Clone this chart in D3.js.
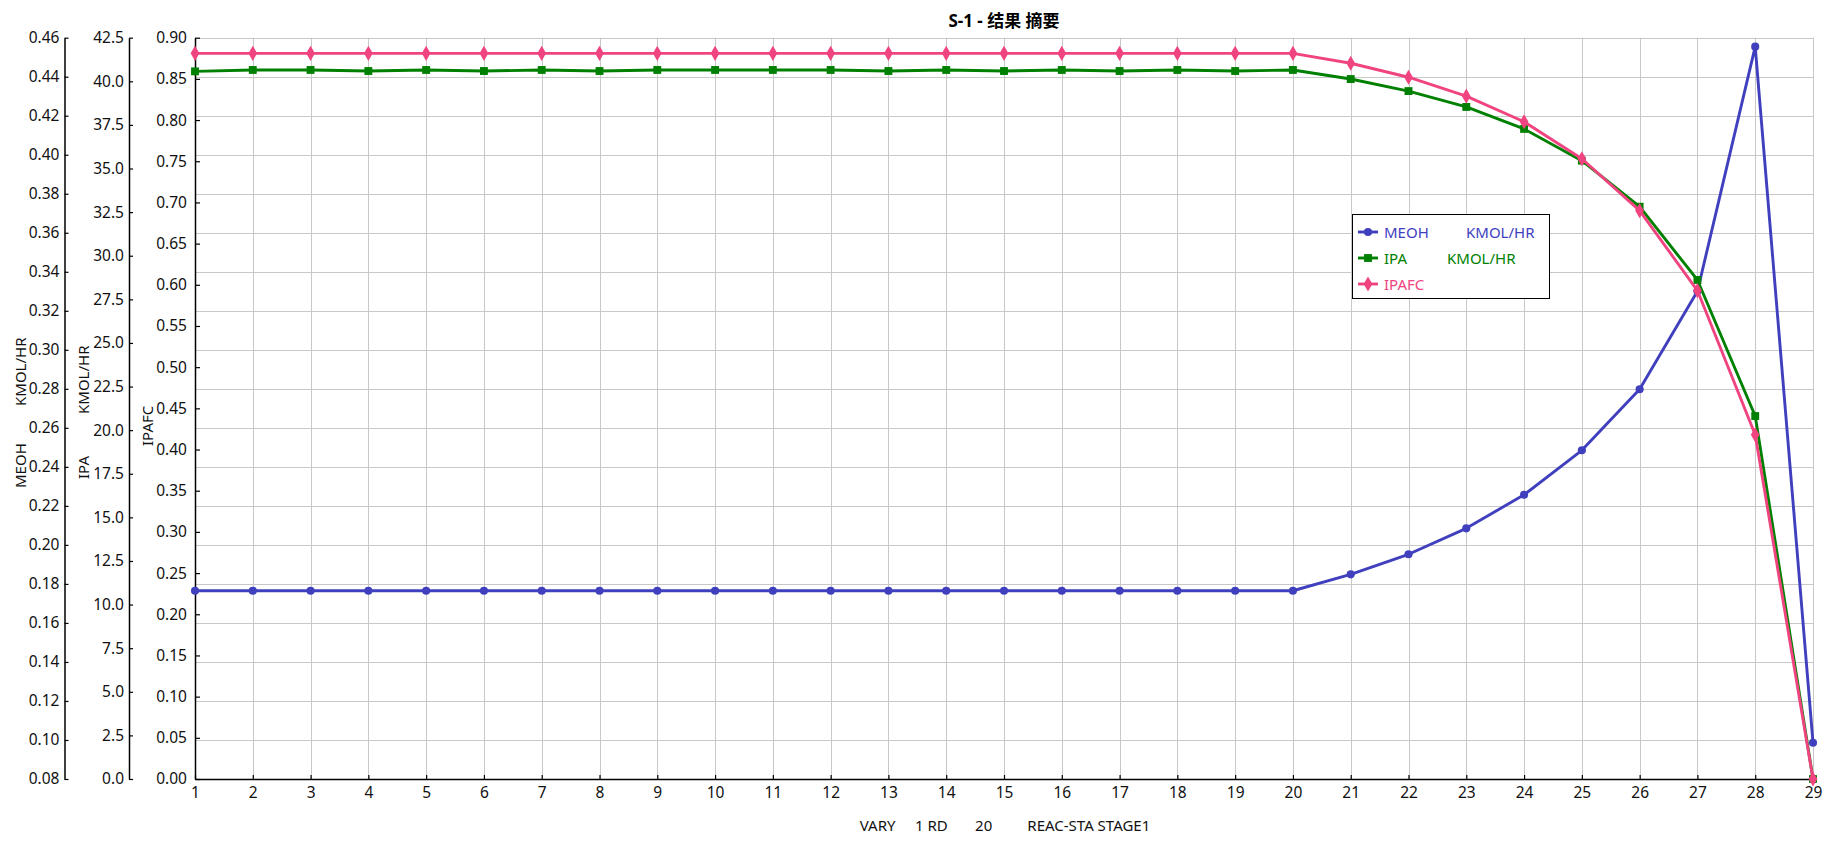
<!DOCTYPE html>
<html>
<head>
<meta charset="utf-8">
<script src="https://cdn.jsdelivr.net/npm/d3@7/dist/d3.min.js"></script>
<style>
  html, body { margin: 0; padding: 0; background: #fff; }
  svg { display: block; }
  text { font-family: "Noto Sans", "Noto Sans CJK SC", sans-serif; }
</style>
</head>
<body>
<svg id="chart" width="1829" height="844"></svg>
<script>
// ---- data ----
const stages = d3.range(1, 30);
const meoh = [0.1765,0.1765,0.1765,0.1765,0.1765,0.1765,0.1765,0.1765,0.1765,0.1765,
              0.1765,0.1765,0.1765,0.1765,0.1765,0.1765,0.1765,0.1765,0.1765,0.1765,
              0.1849,0.1952,0.2085,0.2257,0.2485,0.2798,0.3300,0.4554,0.0986];
const ipa = [40.57,40.65,40.65,40.59,40.65,40.59,40.65,40.59,40.65,40.65,
             40.65,40.65,40.59,40.65,40.59,40.65,40.59,40.65,40.59,40.65,
             40.13,39.44,38.53,37.27,35.45,32.81,28.61,20.81,0.0];
const ipafc = [0.881,0.881,0.881,0.881,0.881,0.881,0.881,0.881,0.881,0.881,
               0.881,0.881,0.881,0.881,0.881,0.881,0.881,0.881,0.881,0.881,
               0.869,0.852,0.829,0.798,0.753,0.690,0.593,0.418,0.0];
const meohTicks = d3.range(0, 20).map(i => +(0.08 + i * 0.02).toFixed(2));
const ipaTicks = d3.range(0, 18).map(i => i * 2.5);
const ipafcTicks = d3.range(0, 19).map(i => +(i * 0.05).toFixed(2));
const title = "S-1 - 结果 摘要";
const xTitle = "VARY     1 RD       20         REAC-STA STAGE1";

// ---- layout ----
const svg = d3.select("#chart");
const L = 195, R = 1813, T = 37.7, B = 779;
const axMeohX = 64.5, axIpaX = 129, axIpafcX = 195;
const cBlue = "#4040BF", cGreen = "#008000", cPink = "#F04480";

const x = d3.scaleLinear().domain([1, 29]).range([L, R]);
const yMeoh = d3.scaleLinear().domain([0.08, 0.46]).range([B, T]);
const yIpa = d3.scaleLinear().domain([0, 42.5]).range([B, T]);
const yIpafc = d3.scaleLinear().domain([0, 0.9]).range([B, T]);

// grid
const grid = svg.append("g").attr("stroke", "#C8C8C8").attr("stroke-width", 1);
grid.selectAll("line.v").data(stages).join("line")
  .attr("x1", d => Math.round(x(d)) + 0.5).attr("x2", d => Math.round(x(d)) + 0.5)
  .attr("y1", T).attr("y2", B);
grid.selectAll("line.h").data(meohTicks).join("line")
  .attr("x1", L).attr("x2", R + 1)
  .attr("y1", d => Math.round(yMeoh(d)) + 0.5).attr("y2", d => Math.round(yMeoh(d)) + 0.5);

// axes
function styleAxis(g) {
  g.selectAll(".domain").attr("stroke", "#000").attr("stroke-width", 1.5);
  g.selectAll(".tick line").attr("stroke", "#000").attr("stroke-width", 1.2);
  g.selectAll(".tick text").attr("fill", "#111").style("font-size", "15.5px");
}
const axMeoh = d3.axisLeft(yMeoh).tickValues(meohTicks).tickFormat(d3.format(".2f"))
  .tickSizeInner(-4).tickSizeOuter(0).tickPadding(5);
svg.append("g").attr("transform", `translate(${axMeohX},0)`).call(axMeoh).call(styleAxis);

const axIpa = d3.axisLeft(yIpa).tickValues(ipaTicks).tickFormat(d3.format(".1f"))
  .tickSizeInner(-4).tickSizeOuter(0).tickPadding(5);
svg.append("g").attr("transform", `translate(${axIpaX},0)`).call(axIpa).call(styleAxis);

const axIpafc = d3.axisLeft(yIpafc).tickValues(ipafcTicks).tickFormat(d3.format(".2f"))
  .tickSizeInner(-5).tickSizeOuter(0).tickPadding(8);
svg.append("g").attr("transform", `translate(${axIpafcX},0)`).call(axIpafc).call(styleAxis);

const axX = d3.axisBottom(x).tickValues(stages).tickFormat(d3.format("d"))
  .tickSizeInner(-4).tickSizeOuter(0).tickPadding(8);
svg.append("g").attr("transform", `translate(0,${B})`).call(axX).call(styleAxis);

// axis titles (rotated)
function yTitle(cx, parts) {
  const t = svg.append("text").attr("transform", `translate(${cx},0) rotate(-90)`)
    .attr("dominant-baseline", "central").attr("fill", "#111").style("font-size", "15px");
  parts.forEach(p => t.append("tspan").attr("x", -p[1]).text(p[0]));
}
yTitle(20, [["MEOH", 488], ["KMOL/HR", 406]]);
yTitle(83, [["IPA", 479], ["KMOL/HR", 414]]);
yTitle(147, [["IPAFC", 446]]);

// x title
svg.append("text").attr("x", (L + R) / 2 + 1).attr("y", 825)
  .attr("text-anchor", "middle").attr("dominant-baseline", "central")
  .attr("fill", "#111").style("font-size", "15px").style("white-space", "pre")
  .attr("xml:space", "preserve").text(xTitle);

// chart title
svg.append("text").attr("x", 1004).attr("y", 20)
  .attr("text-anchor", "middle").attr("dominant-baseline", "central")
  .attr("fill", "#000").style("font-size", "17px").style("font-weight", "bold").text(title);

// series
const series = [
  { name: "MEOH", vals: meoh, y: yMeoh, color: cBlue, sym: d3.symbolCircle, size: 52 },
  { name: "IPA", vals: ipa, y: yIpa, color: cGreen, sym: d3.symbolSquare, size: 62 },
  { name: "IPAFC", vals: ipafc, y: yIpafc, color: cPink, sym: d3.symbolDiamond, size: 66 }
];
series.forEach(s => {
  const data = stages.map((st, i) => [st, s.vals[i]]);
  const line = d3.line().x(d => x(d[0])).y(d => s.y(d[1]));
  const g = svg.append("g");
  g.append("path").datum(data).attr("d", line).attr("fill", "none")
    .attr("stroke", s.color).attr("stroke-width", 2.9).attr("stroke-linejoin", "round");
  g.selectAll("path.m").data(data).join("path").attr("class", "m")
    .attr("transform", d => `translate(${x(d[0])},${s.y(d[1])})`)
    .attr("d", d3.symbol().type(s.sym).size(s.size)).attr("fill", s.color);
});

// legend
const leg = svg.append("g");
leg.append("rect").attr("x", 1352.5).attr("y", 214.5).attr("width", 197).attr("height", 84)
  .attr("fill", "#fff").attr("stroke", "#000").attr("stroke-width", 1);
const legItems = [
  { s: series[0], label: "MEOH", unit: "KMOL/HR", ux: 1466, y: 232 },
  { s: series[1], label: "IPA", unit: "KMOL/HR", ux: 1447, y: 258 },
  { s: series[2], label: "IPAFC", unit: "", ux: 0, y: 284 }
];
legItems.forEach(it => {
  leg.append("line").attr("x1", 1358).attr("x2", 1378).attr("y1", it.y).attr("y2", it.y)
    .attr("stroke", it.s.color).attr("stroke-width", 2.9);
  leg.append("path").attr("transform", `translate(1368,${it.y})`)
    .attr("d", d3.symbol().type(it.s.sym).size(it.s.size)).attr("fill", it.s.color);
  const t = leg.append("text").attr("y", it.y).attr("dominant-baseline", "central")
    .attr("fill", it.s.color).style("font-size", "15px");
  t.append("tspan").attr("x", 1384).text(it.label);
  if (it.unit) t.append("tspan").attr("x", it.ux).text(it.unit);
});
</script>
</body>
</html>
